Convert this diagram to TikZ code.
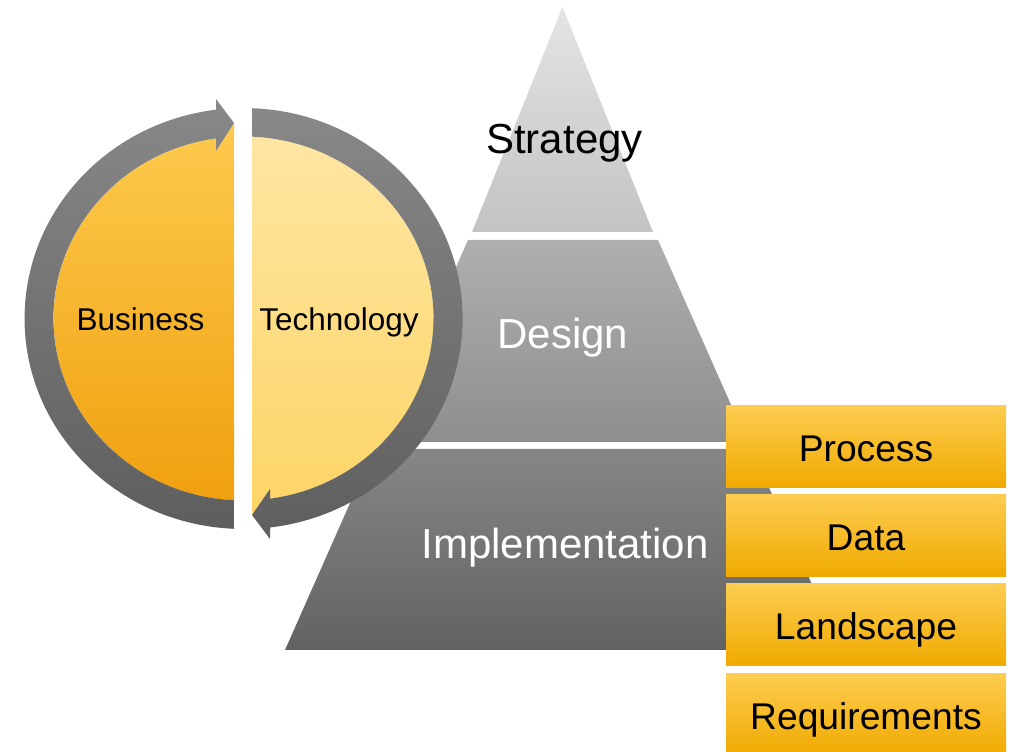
\documentclass[tikz,border=0pt]{standalone}
\usepackage{fontspec}
\setmainfont{Liberation Sans}
\usetikzlibrary{calc}
\definecolor{ringtop}{RGB}{136,136,136}
\definecolor{ringbot}{RGB}{94,94,94}
\definecolor{biztop}{RGB}{253,202,78}
\definecolor{bizbot}{RGB}{240,160,15}
\definecolor{techtop}{RGB}{254,230,162}
\definecolor{techbot}{RGB}{253,212,102}
\definecolor{goldtop}{RGB}{253,204,80}
\definecolor{goldbot}{RGB}{240,170,0}
\definecolor{strattop}{RGB}{228,228,228}
\definecolor{stratbot}{RGB}{195,195,195}
\definecolor{destop}{RGB}{175,175,175}
\definecolor{desbot}{RGB}{142,142,142}
\definecolor{imptop}{RGB}{134,134,134}
\definecolor{impbot}{RGB}{98,98,98}

\begin{document}
\begin{tikzpicture}[x=1pt,y=1pt]

\tikzstyle{ring_part} = [draw=none, top color=ringtop, bottom color=ringbot]
\tikzstyle{biz_half} = [draw=none, top color=biztop, bottom color=bizbot]
\tikzstyle{tech_half} = [draw=none, top color=techtop, bottom color=techbot]
\tikzstyle{gold_block} = [draw=none, inner sep=0, minimum width=280pt, minimum height=82pt,
text height=33pt, text depth=3pt, top color=goldtop, bottom color=goldbot,
font=\fontsize{37.2}{44}\selectfont]
\tikzstyle{level_label} = [anchor=base, font=\fontsize{42}{50}\selectfont]
\tikzstyle{half_label} = [anchor=base, font=\fontsize{31.5}{38}\selectfont]

\useasboundingbox (0,0) rectangle (1010,752);
\clip (0,0) rectangle (1010,752);

% pyramid
\path[top color=strattop, bottom color=stratbot] (562.5,745) -- (653,520) -- (472,520) -- cycle;
\path[top color=destop, bottom color=desbot] (468,512) -- (658,512) -- (747.5,310) -- (378.5,310) -- cycle;
\path[top color=imptop, bottom color=impbot] (374,303) -- (752,303) -- (841,102) -- (285,102) -- cycle;

\node[level_label] (strategy) at (564.5,598) {Strategy};
\node[level_label, text=white] (design) at (563,403) {Design};
\node[level_label, text=white] (implementation) at (565,193.5) {Implementation};

% circle halves
\path[biz_half] (234,629) -- (234,251.7) arc[start angle=267.1, end angle=98.3, x radius=190, y radius=182] -- (216,601) -- cycle;
\path[tech_half] (252,237) -- (252,615.3) arc[start angle=87.4, end angle=-82, x radius=190, y radius=182] -- (270,263) -- cycle;

% ring arrows
\path[ring_part] (234,223.2) arc[start angle=267.5, end angle=97.2, x radius=219, y radius=210.5]
  -- (216,653) -- (234,629) -- (216,601) -- (216,613.6)
  arc[start angle=98.3, end angle=267.1, x radius=190, y radius=182] -- cycle;
\path[ring_part] (252,643.8) arc[start angle=87.8, end angle=-83, x radius=219, y radius=210.5]
  -- (270,213) -- (252,237) -- (270,263) -- (270,253.3)
  arc[start angle=-82, end angle=87.4, x radius=190, y radius=182] -- cycle;

\node[half_label] (business) at (140.5,421.3) {Business};
\node[half_label] (technology) at (339,421.3) {Technology};

% side blocks
\node[gold_block] (process) at (866,305) {Process};
\node[gold_block] (data) at (866,216) {Data};
\node[gold_block] (landscape) at (866,127) {Landscape};
\node[gold_block] (requirements) at (866,37) {Requirements};

\end{tikzpicture}
\end{document}
